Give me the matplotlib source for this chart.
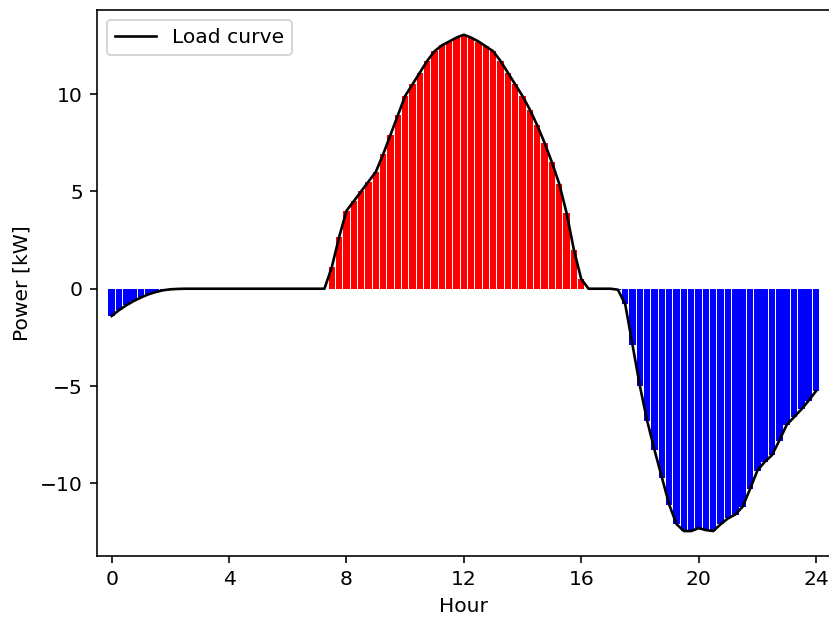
import numpy as np
import matplotlib
matplotlib.use("Agg")
import matplotlib.pyplot as plt

# 15-minute load values (kW), 0h .. 24h
hours = np.arange(0, 24.01, 0.25)
load = [
    -1.40, -1.10, -0.85, -0.63, -0.45, -0.29, -0.17, -0.08, -0.03, -0.01,
    0, 0, 0, 0, 0, 0, 0, 0, 0, 0,
    0, 0, 0, 0, 0, 0, 0, 0, 0, 0,
    1.1, 2.65, 4.0, 4.5, 5.0, 5.5, 6.0, 6.9, 7.9, 8.9,
    9.9, 10.5, 11.1, 11.7, 12.2, 12.5, 12.7, 12.9, 13.05, 12.9,
    12.7, 12.45, 12.2, 11.7, 11.1, 10.5, 9.9, 9.2, 8.4, 7.5,
    6.5, 5.4, 3.9, 2.0, 0.5,
    0, 0, 0, 0,
    -0.05, -0.8, -2.9, -5.0, -6.8, -8.3, -9.7, -11.1, -12.1, -12.45,
    -12.45, -12.3, -12.4, -12.45, -12.1, -11.8, -11.6, -11.2, -10.3, -9.35,
    -8.9, -8.55, -7.8, -7.0, -6.6, -6.2, -5.75, -5.26,
]
load = np.array(load)

# red = consumption (positive), blue = feed-in (negative)
colors = ["red" if v > 0 else "blue" for v in load]

dpi = 146
fig, ax = plt.subplots(figsize=(829 / dpi, 619 / dpi), dpi=dpi)
# right edge of the axes sits just past the canvas, like the cropped original
fig.subplots_adjust(left=0.117, right=1.002, top=0.984, bottom=0.102)

ax.bar(hours, load, width=0.22, color=colors)
ax.plot(hours, load, color="black", linewidth=1.3, label="Load curve")

ax.set_xlim(-0.5, 24.5)
ax.set_xticks(range(0, 25, 4))
ax.set_xlabel("Hour")
ax.set_ylabel("Power [kW]")
ax.legend(loc="upper left")

fig.savefig("out.png")
